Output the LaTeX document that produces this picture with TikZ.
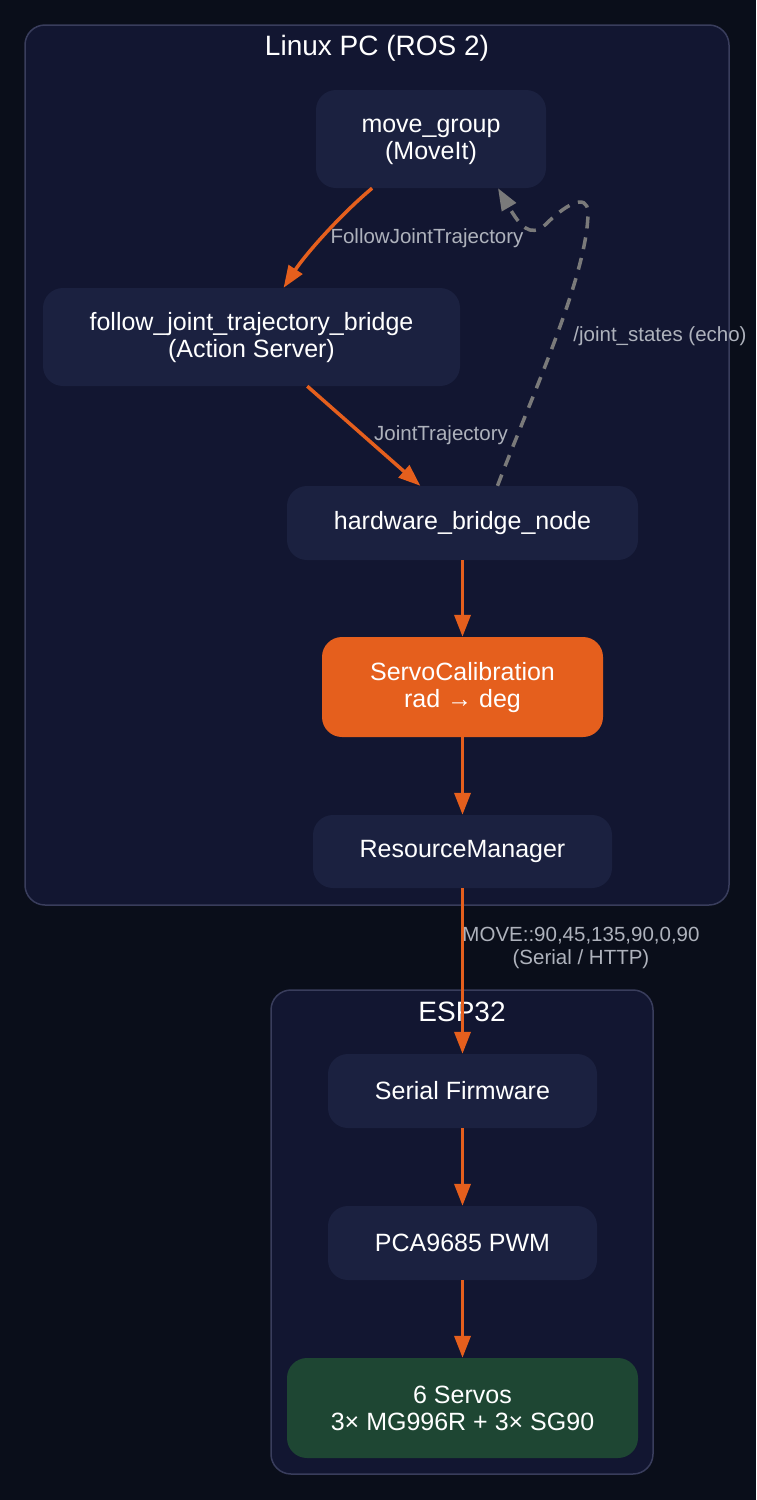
\documentclass[tikz,border=0pt]{standalone}
\usepackage{fontspec}
\setmainfont{Liberation Sans}
\usetikzlibrary{arrows.meta,calc}
\definecolor{bgc}{HTML}{0A0E1A}
\definecolor{clfill}{HTML}{121631}
\definecolor{clborder}{HTML}{393D5C}
\definecolor{nodefill}{HTML}{1B2140}
\definecolor{orangec}{HTML}{E55F1D}
\definecolor{greenc}{HTML}{1E4633}
\definecolor{labelc}{HTML}{AEB2BC}
\definecolor{dashc}{HTML}{7A7A7A}
\begin{document}
\begin{tikzpicture}[x=1pt,y=-1pt,
  cluster/.style={draw=clborder,fill=clfill,line width=1.5pt,rounded corners=20pt},
  ctitle/.style={text=white,font=\fontsize{28}{32}\selectfont,inner sep=0pt},
  box/.style={fill=nodefill,rounded corners=20pt,text=white,align=center,
    font=\fontsize{25}{27}\selectfont,inner sep=0pt},
  elabel/.style={text=labelc,align=center,font=\fontsize{20.5}{23}\selectfont,inner sep=0pt},
  oedge/.style={draw=orangec,line width=3.5pt,-{Triangle[length=22pt,width=16pt]}},
  dedge/.style={draw=dashc,line width=3.5pt,dash pattern=on 12pt off 9pt,
    -{Triangle[length=22pt,width=16pt]}}
]
\fill[bgc] (0,0) rectangle (756,1500);
\useasboundingbox (0,0) rectangle (756,1500);

% clusters
\draw[cluster] (25,25) rectangle (729,905);
\node[ctitle] (t1) at (377,48) {Linux PC (ROS 2)};
\draw[cluster] (271,990) rectangle (653,1474);
\node[ctitle] (t2) at (462,1012) {ESP32};

% nodes
\node[box,minimum width=230pt,minimum height=98pt] (mg) at (431,139) {\strut move\_group\\(MoveIt)};
\node[box,minimum width=417pt,minimum height=98pt] (fjt) at (251.5,337) {\strut follow\_joint\_trajectory\_bridge\\(Action Server)};
\node[box,minimum width=351pt,minimum height=74pt] (hb) at (462.5,523) {hardware\_bridge\_node};
\node[box,fill=orangec,minimum width=281pt,minimum height=100pt] (sc) at (462.5,687) {\strut ServoCalibration\\rad → deg};
\node[box,minimum width=299pt,minimum height=73pt] (rm) at (462.5,851.5) {ResourceManager};
\node[box,minimum width=269pt,minimum height=74pt] (sf) at (462.5,1091) {Serial Firmware};
\node[box,minimum width=269pt,minimum height=74pt] (pwm) at (462.5,1243) {PCA9685 PWM};
\node[box,fill=greenc,minimum width=351pt,minimum height=100pt] (sv) at (462.5,1408) {\strut 6 Servos\\3× MG996R + 3× SG90};

% edges
\draw[oedge] (mg) .. controls (340,215) and (305,255) .. (fjt);
\node[elabel] (l1) at (427,238) {FollowJointTrajectory};
\draw[oedge] (fjt) -- (hb);
\node[elabel] (l2) at (441,435) {JointTrajectory};
\draw[dedge] ($(hb.north)+(35,0)$) .. controls (530,400) and (588,275) .. (588,212)
  .. controls (587,192) and (565,205) .. (545,225)
  .. controls (530,238) and (520,226) .. ($(mg.south)+(67,0)$);
\node[elabel] (l3) at (660,336) {/joint\_states (echo)};
\draw[oedge] (hb) -- (sc);
\draw[oedge] (sc) -- (rm);
\draw[oedge] (rm) -- (sf);
\node[elabel] (l4) at (581,948) {MOVE::90,45,135,90,0,90\\(Serial / HTTP)};
\draw[oedge] (sf) -- (pwm);
\draw[oedge] (pwm) -- (sv);
\end{tikzpicture}
\end{document}
